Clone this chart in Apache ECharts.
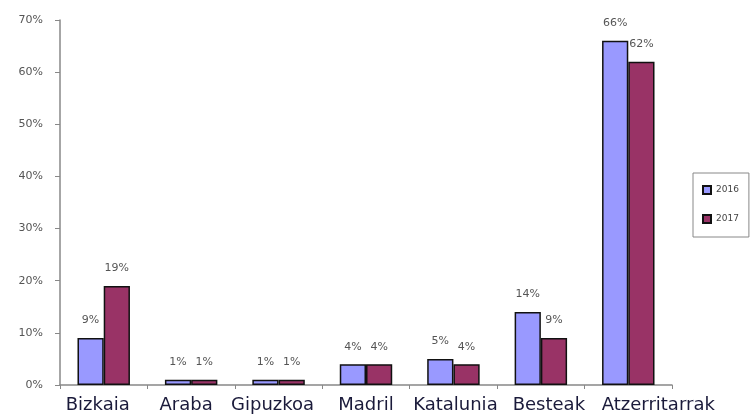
<!DOCTYPE html>
<html><head><meta charset="utf-8">
<script src="https://cdn.jsdelivr.net/npm/echarts@6/dist/echarts.min.js"></script>
<style>html,body{margin:0;padding:0;background:#fff}#c{width:752px;height:414px}</style>
</head><body><div id="c"></div>
<script>
const categories = ["Bizkaia", "Araba", "Gipuzkoa", "Madril", "Katalunia", "Besteak", "Atzerritarrak"];
const seriesNames = ["2016", "2017"];
const values2016 = [9, 1, 1, 4, 5, 14, 66];
const values2017 = [19, 1, 1, 4, 4, 9, 62];
const yTicks = [0, 10, 20, 30, 40, 50, 60, 70];

const chart = echarts.init(document.getElementById('c'));
const labelStyle = {show: true, position: 'top', distance: 12, color: '#555', fontSize: 11,
  fontFamily: 'DejaVu Sans', formatter: p => p.value + '%'};
// horizontal nudges of the category labels (layout only)
const labelShift = [-6, -5, -6, 0, 2, 8, 30];
const catData = categories.map((c, i) => {
  const s = labelShift[i];
  return {value: c, textStyle: {padding: s >= 0 ? [0, 0, 0, 2 * s] : [0, -2 * s, 0, 0]}};
});
chart.setOption({
  animation: false,
  grid: {left: 60, right: 80, top: 20, bottom: 29, containLabel: false},
  legend: {
    orient: 'vertical', left: 693, top: 173, width: 57,
    data: seriesNames, itemWidth: 8, itemHeight: 8, itemGap: 19,
    borderColor: '#888', borderWidth: 1, padding: [12, 10, 13, 9],
    textStyle: {fontSize: 9, color: '#444', fontFamily: 'DejaVu Sans'},
    icon: 'rect', selectedMode: false
  },
  xAxis: {
    type: 'category', data: catData,
    axisLine: {lineStyle: {color: '#888', width: 1.5}},
    axisTick: {show: true, length: 4, lineStyle: {color: '#888'}},
    axisLabel: {color: '#1a1a3a', fontSize: 18, fontFamily: 'DejaVu Sans', margin: 11, interval: 0}
  },
  yAxis: {
    type: 'value', min: 0, max: 70, interval: 10,
    splitLine: {show: false},
    axisLine: {show: true, lineStyle: {color: '#888', width: 1.5}},
    axisTick: {show: true, length: 5, lineStyle: {color: '#888'}},
    axisLabel: {color: '#555', fontSize: 11, fontFamily: 'DejaVu Sans', margin: 17,
      formatter: v => yTicks.includes(v) ? v + '%' : ''}
  },
  series: [
    {name: seriesNames[0], type: 'bar', data: values2016, barGap: '0%', barCategoryGap: '40%',
     itemStyle: {color: '#9999FF', borderColor: '#111', borderWidth: 1.5}, label: labelStyle},
    {name: seriesNames[1], type: 'bar', data: values2017,
     itemStyle: {color: '#993366', borderColor: '#111', borderWidth: 1.5}, label: labelStyle}
  ]
});
</script></body></html>
